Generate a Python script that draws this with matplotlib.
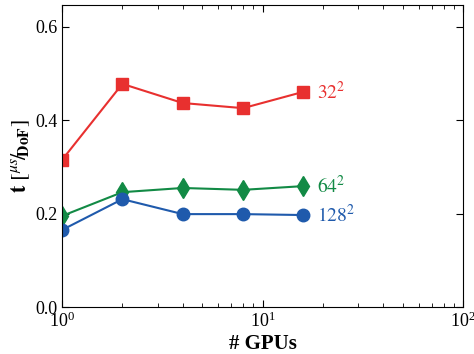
import matplotlib
matplotlib.use("Agg")
import matplotlib.pyplot as plt

plt.rcParams['font.family'] = ['Liberation Serif', 'DejaVu Serif']
plt.rcParams['mathtext.fontset'] = 'stix'

gpus = [1, 2, 4, 8, 16]
t32 = [0.315, 0.478, 0.437, 0.426, 0.461]
t64 = [0.195, 0.246, 0.255, 0.251, 0.259]
t128 = [0.165, 0.231, 0.199, 0.199, 0.197]
labels = [r"$32^2$", r"$64^2$", r"$128^2$"]
colors = ["#e8302f", "#128a45", "#1f5aac"]
markers = ["s", "d", "o"]

fig = plt.figure(figsize=(4.74, 3.54), dpi=100)
ax = fig.add_axes([62/474, 1-307/354, (463-62)/474, (307-5)/354])

for y, lab, c, m in zip([t32, t64, t128], labels, colors, markers):
    ax.plot(gpus, y, color=c, marker=m, markersize=9 if m != 'd' else 10, lw=1.5)
    ax.annotate(lab, (gpus[-1], y[-1]), xytext=(10, 0), textcoords='offset points',
                color=c, fontsize=14, va='center', ha='left')

ax.set_xscale('log')
ax.set_xlim(1, 100)
ax.set_ylim(0, 0.647)
ax.set_yticks([0.0, 0.2, 0.4, 0.6])
ax.set_yticklabels(["0.0", "0.2", "0.4", "0.6"])
ax.tick_params(which='both', direction='in', top=True, right=True, labelsize=13)
ax.tick_params(which='major', length=5)
ax.tick_params(which='minor', length=3)
ax.set_xlabel("# GPUs", fontsize=15, fontweight='bold', labelpad=2)
ax.set_ylabel(r"$\mathbf{t}\ \left[{}^{\mu s}\!/\!{}_{\mathbf{DoF}}\right]$", fontsize=16, labelpad=2)

fig.savefig("out.png", dpi=100)
